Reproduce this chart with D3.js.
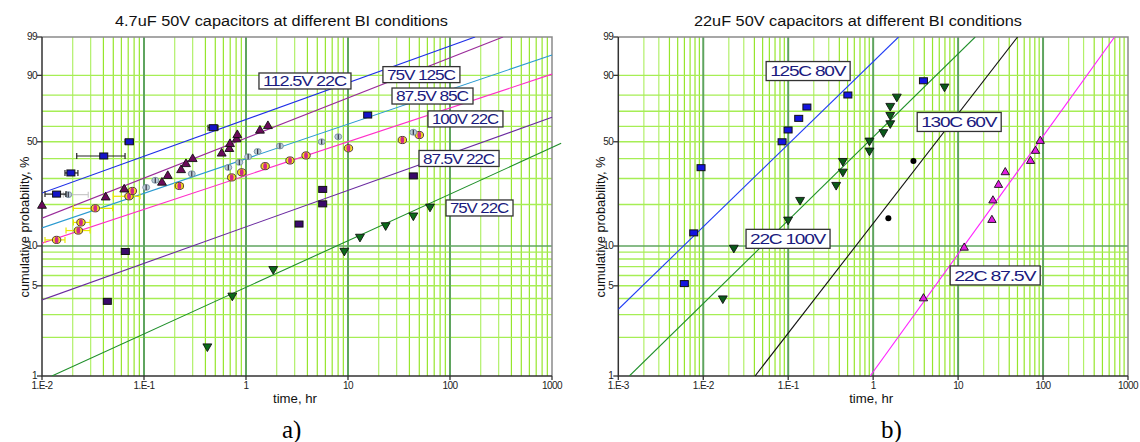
<!DOCTYPE html>
<html><head><meta charset="utf-8">
<script src="https://cdn.jsdelivr.net/npm/d3@7"></script>
<style>body{margin:0;background:#fff}svg{display:block}text{font-family:"Liberation Sans",Arial,sans-serif}text.serif{font-family:"Liberation Serif","Times New Roman",serif}</style>
</head><body><svg id="c" width="1140" height="442"></svg>
<script>
// ---------- shared axis data ----------
const probGrid = [2,3,4,5,6,7,8,9,10,20,30,40,50,60,70,80,90];
const probTicks = [1,5,10,50,90,99];
const probTickLabels = ["1","5","10","50","90","99"];
const timeTicksA = [0.01,0.1,1,10,100,1000];
const timeTickLabelsA = ["1.E-2","1.E-1","1","10","100","1000"];
const timeTicksB = [0.001,0.01,0.1,1,10,100,1000];
const timeTickLabelsB = ["1.E-3","1.E-2","1.E-1","1","10","100","1000"];

// ---------- panel a) 4.7uF ----------
const a112_t  = [0.0139,0.0192,0.0403,0.0718,0.478,15.6];
const a112_p  = [23.6,32.6,41.5,50.0,59.1,67.5];
const a112_lo = [0.0107,0.0168,0.0219,0.0652,0.424,null];
const a112_hi = [0.0172,0.0225,0.0652,0.0786,0.532,null];

const a75h_t = [0.010,0.0421,0.0640,0.150,0.171,0.231,0.258,0.300,0.578,0.686,0.697,0.810,0.822,1.37,1.64];
const a75h_p = [19.6,22.4,25.4,28.2,31.2,34.0,37.1,39.8,42.9,45.6,48.6,51.6,54.3,57.2,60.2];

const a875h_t  = [0.0181,0.105,0.129,0.294,0.671,0.860,1.05,1.30,2.15,5.52,8.03,43.7];
const a875h_p  = [23.4,26.2,29.2,32.2,35.3,38.0,41.1,44.1,47.4,50.0,53.2,56.1];
const a875h_lo = [0.0162,null,null,null,null,null,null,null,null,null,null,null];
const a875h_hi = [0.0284,null,null,null,null,null,null,null,null,null,null,null];

const a100_t  = [0.0139,0.0227,0.0241,0.0333,0.0713,0.0768,0.222,0.724,0.908,1.54,2.70,3.88,10.1,34.1,50.0];
const a100_p  = [11.1,13.0,14.9,18.8,22.8,24.8,26.8,30.5,32.9,36.0,39.0,41.8,46.0,51.1,54.3];
const a100_lo = [0.0107,0.0172,0.0203,0.0203,0.050,null,0.201,null,null,null,null,null,null,null,null];
const a100_hi = [0.0168,0.0296,0.0296,0.0493,0.0913,null,0.241,null,null,null,null,null,null,null,null];

const a875c_t = [0.0437,0.0656,3.31,5.65,5.65,43.7];
const a875c_p = [3.8,9.1,14.5,20.2,25.4,31.2];

const a75c_t = [0.418,0.734,1.85,9.20,13.1,23.4,43.7,63.7];
const a75c_p = [1.7,4.2,6.7,9.2,11.7,14.2,16.7,19.3];

// fitted lines: [time, probability] end points
const aFit112  = [[0.01,24.0],[176,99]];
const aFit75h  = [[0.01,16.0],[331,99]];
const aFit875h = [[0.01,13.6],[1000,96.4]];
const aFit100  = [[0.01,10.5],[1000,90.5]];
const aFit875c = [[0.01,3.9],[1000,66]];
const aFit75c  = [[0.0125,1],[1230,49]];

const aLabels = ["112.5V 22C","75V 125C","87.5V 85C","100V 22C","87.5V 22C","75V 22C"];
const aLabelT = [1.34,22.0,27.0,60.8,49.7,91.4];
const aLabelP = [87.5,90.3,79.5,64.9,40.1,18.9];

// ---------- panel b) 22uF ----------
const b125_t = [0.00599,0.00773,0.00942,0.0847,0.0997,0.133,0.166,0.504,3.91];
const b125_p = [5.2,12.5,35.2,50.0,57.6,65.3,72.7,80.1,87.6];

const b22_100_t = [0.0170,0.0229,0.0997,0.138,0.367,0.440,0.440,0.905,0.905,1.32,1.59,1.59,1.59,1.90,6.92];
const b22_100_p = [4.0,9.7,15.6,21.5,27.2,33.2,38.7,44.6,50.7,56.1,62.0,67.5,73.4,79.1,84.7];

const b130_t = [1.51,2.98];
const b130_p = [16.0,38.7];

const b22_875_t = [3.91,11.8,25.0,25.7,29.9,35.9,71.3,81.6,92.7];
const b22_875_p = [4.0,9.7,15.5,21.3,27.2,32.9,38.7,44.4,50.5];

const bFit125    = [[0.001,3.3],[1.99,99]];
const bFit22_100 = [[0.00135,1],[15.9,99]];
const bFit130    = [[0.0407,1],[50.1,99]];
const bFit22_875 = [[0.922,1],[695,99]];

const bLabels = ["125C 80V","130C 60V","22C 100V","22C 87.5V"];
const bLabelT = [0.055,3.30,0.0319,8.07];
const bLabelP = [91.7,62.9,11.3,6.0];

// ---------- layout / style (not data) ----------
const svg = d3.select("#c");
const weib = p => Math.log(-Math.log(1 - p/100));
const TOP = 37, BOT = 376;
const y = d3.scaleLinear().domain([weib(1), weib(99)]).range([BOT, TOP]);
const Y = p => y(weib(p));

function zip(t,p,lo,hi){ return t.map((d,i)=>({t:d,p:p[i],lo:lo?lo[i]:null,hi:hi?hi[i]:null})); }

function panel(cfg){
  const x = d3.scaleLog().domain(cfg.domain).range(cfg.range);
  const g = svg.append("g");
  const [x0,x1] = cfg.range;
  g.append("rect").attr("x",x0).attr("y",TOP).attr("width",x1-x0).attr("height",BOT-TOP).attr("fill","#fff");
  // vertical grid
  const lo = Math.round(Math.log10(cfg.domain[0])), hi = Math.round(Math.log10(cfg.domain[1]));
  const minor=[], major=[];
  for(let k=lo;k<hi;k++){ for(let m=1;m<=9;m++){ const v=m*Math.pow(10,k); if(m===1){ if(k>lo) major.push(v);} else minor.push({v:v,m:m});} }
  g.selectAll(null).data(minor).enter().append("line")
    .attr("x1",d=>x(d.v)).attr("x2",d=>x(d.v)).attr("y1",TOP).attr("y2",BOT)
    .attr("stroke",d=>d.m<=3?"#b2f06a":"#96e62c").attr("stroke-width",1.2);
  // horizontal grid
  g.selectAll(null).data(probGrid.filter(p=>p!==10)).enter().append("line")
    .attr("x1",x0).attr("x2",x1).attr("y1",d=>Y(d)).attr("y2",d=>Y(d))
    .attr("stroke","#a6ee55").attr("stroke-width",1.4);
  g.selectAll(null).data(major).enter().append("line")
    .attr("x1",d=>x(d)).attr("x2",d=>x(d)).attr("y1",TOP).attr("y2",BOT)
    .attr("stroke","#5fa45f").attr("stroke-width",2);
  g.append("line").attr("x1",x0).attr("x2",x1).attr("y1",Y(10)).attr("y2",Y(10))
    .attr("stroke","#5fa45f").attr("stroke-width",1.6);
  // frame
  g.append("path").attr("d",`M${x0},${TOP}H${x1}V${BOT}`).attr("fill","none").attr("stroke","#8a8a8a").attr("stroke-width",1.5);
  g.append("path").attr("d",`M${x0},${TOP}V${BOT}H${x1}`).attr("fill","none").attr("stroke","#333").attr("stroke-width",1.5);
  // y ticks
  probTicks.forEach((p,i)=>{
    g.append("line").attr("x1",x0-5).attr("x2",x0).attr("y1",Y(p)).attr("y2",Y(p)).attr("stroke","#333").attr("stroke-width",1.3);
    g.append("text").attr("x",x0-5).attr("y",Y(p)+3.2).attr("text-anchor","end")
      .attr("font-size",10).attr("letter-spacing",-0.6).attr("fill","#222").text(probTickLabels[i]);
  });
  // x ticks
  cfg.ticks.forEach((v,i)=>{
    g.append("line").attr("x1",x(v)).attr("x2",x(v)).attr("y1",BOT).attr("y2",BOT+4).attr("stroke","#333").attr("stroke-width",1.3);
    g.append("text").attr("x",x(v)).attr("y",BOT+13).attr("text-anchor","middle")
      .attr("font-size",10).attr("letter-spacing",-0.6).attr("fill","#222").text(cfg.tickLabels[i]);
  });
  // titles
  g.append("text").attr("x",cfg.titleX).attr("y",26).attr("text-anchor","middle").attr("font-size",15.5)
    .attr("textLength",cfg.titleW).attr("lengthAdjust","spacingAndGlyphs").attr("fill","#111").text(cfg.title);
  g.append("text").attr("transform",`translate(${x0-13},227) rotate(-90)`).attr("text-anchor","middle")
    .attr("font-size",13.5).attr("textLength",141).attr("lengthAdjust","spacingAndGlyphs").attr("fill","#111")
    .text("cumulative probability, %");
  g.append("text").attr("x",(x0+x1)/2-2).attr("y",403).attr("text-anchor","middle").attr("font-size",12)
    .attr("textLength",44).attr("lengthAdjust","spacingAndGlyphs").attr("fill","#111").text("time, hr");
  g.append("text").attr("class","serif").attr("x",cfg.letterX).attr("y",438)
    .attr("font-size",25).attr("fill","#000").text(cfg.letter);

  // clip
  const cid = "clip"+cfg.letter.replace(")","");
  svg.append("clipPath").attr("id",cid).append("rect").attr("x",x0).attr("y",TOP).attr("width",x1-x0+10).attr("height",BOT-TOP);
  const lg = g.append("g").attr("clip-path",`url(#${cid})`);
  cfg.fits.forEach(f=>{
    lg.append("path").datum(f.pts).attr("fill","none").attr("stroke",f.color).attr("stroke-width",1.1)
      .attr("d",d3.line().x(d=>x(d[0])).y(d=>Y(d[1])));
  });

  // series
  cfg.series.forEach(s=>{
    const data = s.data;
    if(s.err){
      const e = data.filter(d=>d.lo!=null);
      const eg = g.append("g").attr("stroke",s.err).attr("stroke-width",1.2);
      e.forEach(d=>{
        eg.append("line").attr("x1",x(d.lo)).attr("x2",x(d.hi)).attr("y1",Y(d.p)).attr("y2",Y(d.p));
        eg.append("line").attr("x1",x(d.lo)).attr("x2",x(d.lo)).attr("y1",Y(d.p)-3).attr("y2",Y(d.p)+3);
        eg.append("line").attr("x1",x(d.hi)).attr("x2",x(d.hi)).attr("y1",Y(d.p)-3).attr("y2",Y(d.p)+3);
      });
    }
    const mg = g.append("g");
    data.forEach(d=>{
      const cx=x(d.t), cy=Y(d.p);
      if(s.shape==="square"){
        mg.append("rect").attr("x",cx-4).attr("y",cy-3).attr("width",8).attr("height",6)
          .attr("fill",s.fill).attr("stroke","#111").attr("stroke-width",1);
      } else if(s.shape==="up"||s.shape==="down"){
        mg.append("path").attr("d",d3.symbol(d3.symbolTriangle,s.size||34)())
          .attr("transform",`translate(${cx},${cy})`+(s.shape==="down"?" rotate(180)":""))
          .attr("fill",s.fill).attr("stroke","#111").attr("stroke-width",0.9);
      } else if(s.shape==="diamond"){
        mg.append("ellipse").attr("cx",cx).attr("cy",cy).attr("rx",3.5).attr("ry",3)
          .attr("fill","#b9cbd6").attr("stroke","#6f8898").attr("stroke-width",0.8);
        mg.append("line").attr("x1",cx).attr("x2",cx).attr("y1",cy-2.6).attr("y2",cy+2.6).attr("stroke","#334").attr("stroke-width",1.2);
      } else if(s.shape==="bicolor"){
        mg.append("ellipse").attr("cx",cx).attr("cy",cy).attr("rx",4.2).attr("ry",3.6)
          .attr("fill","#f2e21c").attr("stroke","#442233").attr("stroke-width",0.9);
        mg.append("ellipse").attr("cx",cx).attr("cy",cy).attr("rx",1.9).attr("ry",3.2).attr("fill","#d0288a");
      } else if(s.shape==="dot"){
        mg.append("circle").attr("cx",cx).attr("cy",cy).attr("r",3).attr("fill",s.fill);
      }
    });
  });

  // labels
  cfg.labels.forEach((L,i)=>{
    const lx=x(L.t), ly=Y(L.p), w=cfg.labelW[i], h=cfg.labelH;
    g.append("rect").attr("x",lx).attr("y",ly-h/2).attr("width",w).attr("height",h)
      .attr("fill","#fff").attr("stroke","#333").attr("stroke-width",1.3);
    g.append("text").attr("x",lx+4).attr("y",ly+5.3).attr("font-size",15.5).attr("fill","#1a1a7e")
      .attr("textLength",w-9).attr("lengthAdjust","spacingAndGlyphs").attr("letter-spacing",-1).text(L.text);
  });
}

panel({
  domain:[0.01,1000], range:[42,552], ticks:timeTicksA, tickLabels:timeTickLabelsA,
  title:"4.7uF 50V capacitors at different BI conditions", titleX:281.5, titleW:333,
  letter:"a)", letterX:282,
  fits:[{pts:aFit112,color:"#1f2fe8"},{pts:aFit75h,color:"#9a2c9a"},{pts:aFit875h,color:"#2a9ad0"},
        {pts:aFit100,color:"#ff2ec8"},{pts:aFit875c,color:"#6a2aa0"},{pts:aFit75c,color:"#1f8f2a"}],
  series:[
    {data:zip(a100_t,a100_p,a100_lo,a100_hi),shape:"bicolor",err:"#e8e800"},
    {data:zip(a875h_t,a875h_p,a875h_lo,a875h_hi),shape:"diamond",err:"#c8c8c8"},
    {data:zip(a112_t,a112_p,a112_lo,a112_hi),shape:"square",fill:"#1414c8",err:"#222"},
    {data:zip(a75h_t,a75h_p),shape:"up",fill:"#6a0a5a"},
    {data:zip(a875c_t,a875c_p),shape:"square",fill:"#3a0a6a"},
    {data:zip(a75c_t,a75c_p),shape:"down",fill:"#0a6a1a"}
  ],
  labels:aLabels.map((s,i)=>({text:s,t:aLabelT[i],p:aLabelP[i]})),
  labelW:[92,77,81,75,80,67], labelH:16
});

panel({
  domain:[0.001,1000], range:[618.3,1128], ticks:timeTicksB, tickLabels:timeTickLabelsB,
  title:"22uF 50V capacitors at different BI conditions", titleX:858, titleW:328,
  letter:"b)", letterX:881,
  fits:[{pts:bFit125,color:"#1f3cf5"},{pts:bFit22_100,color:"#1f8f2a"},{pts:bFit130,color:"#111"},{pts:bFit22_875,color:"#ff22ff"}],
  series:[
    {data:zip(b125_t,b125_p),shape:"square",fill:"#1414e0"},
    {data:zip(b22_100_t,b22_100_p),shape:"down",fill:"#0a5a1a"},
    {data:zip(b130_t,b130_p),shape:"dot",fill:"#000"},
    {data:zip(b22_875_t,b22_875_p),shape:"up",fill:"#e21ee2",size:30}
  ],
  labels:bLabels.map((s,i)=>({text:s,t:bLabelT[i],p:bLabelP[i]})),
  labelW:[84,84,84,90], labelH:19
});
</script></body></html>
